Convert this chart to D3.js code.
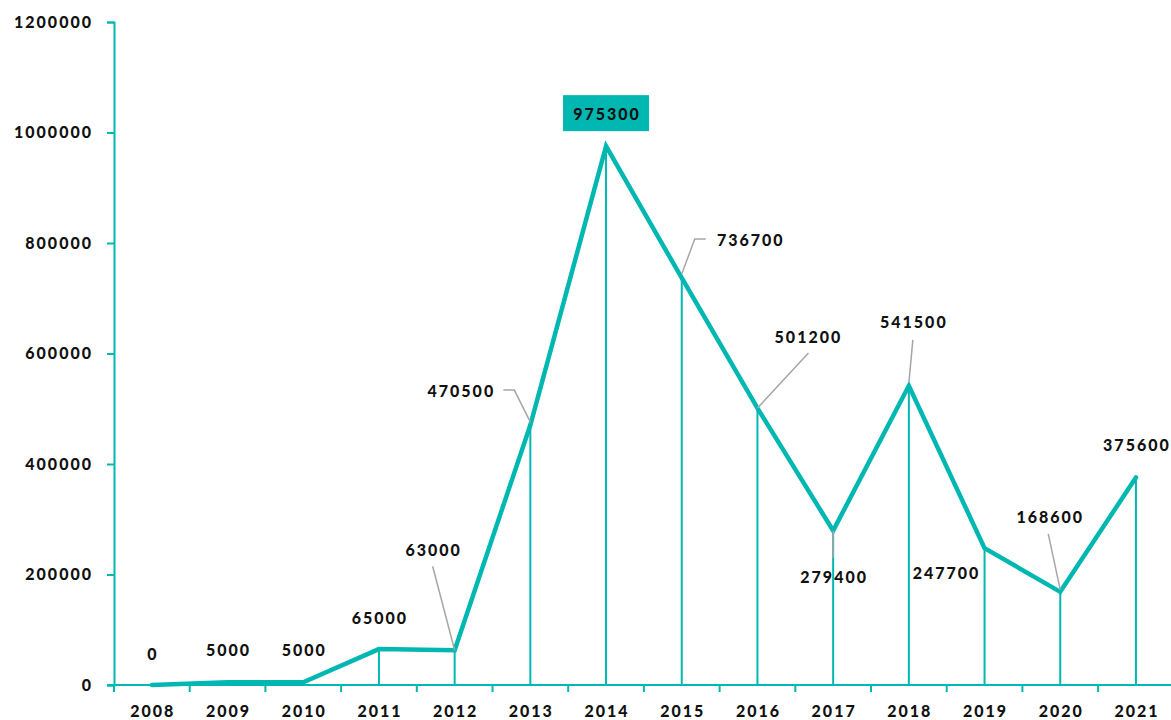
<!DOCTYPE html>
<html>
<head>
<meta charset="utf-8">
<script src="https://cdn.jsdelivr.net/npm/d3@7"></script>
<style>
  body { margin: 0; background: #fff; }
  text { font-family: Lato, "Open Sans", sans-serif; font-weight: 900; }
</style>
</head>
<body>
<div id="chart"><svg width="1171" height="720"></svg></div>
<script>
// Data
let years = ["2008", "2009", "2010", "2011", "2012", "2013", "2014", "2015", "2016", "2017", "2018", "2019", "2020", "2021"];
let values = [0, 5000, 5000, 65000, 63000, 470500, 975300, 736700, 501200, 279400, 541500, 247700, 168600, 375600];
let yTicks = [0, 200000, 400000, 600000, 800000, 1000000, 1200000];

// Label placement (offsets from the point, in px) and leader lines
let labelLayout = [
  { dx: 0, dy: -31 },
  { dx: 0, dy: -32 },
  { dx: 0, dy: -32 },
  { dx: 0, dy: -31 },
  { dx: -22, dy: -100, leader: [[-22, -84], [0, 0]] },
  { dx: -70, dy: -34, leader: [[-27, -35], [-16, -35], [0, -3]] },
  { dx: 0, dy: -32, box: true },
  { dx: 68, dy: -38, leader: [[24, -39], [13, -39], [0, -4]] },
  { dx: 50, dy: -71, leader: [[51, -55], [0, 0]] },
  { dx: 0, dy: 47, leader: [[0, 0], [0, 27]] },
  { dx: 4, dy: -63, leader: [[4, -46], [0, -3]] },
  { dx: -39, dy: 25 },
  { dx: -11, dy: -74, leader: [[-12, -58], [0, -2]] },
  { dx: 0, dy: -32 }
];

let teal = "#00b8b1";
let grey = "#a6a6a6";

let svg = d3.select("div#chart svg"),
  margin = { top: 22, right: 0, bottom: 35, left: 114 },
  width = 1171 - margin.left - margin.right,
  height = 720 - margin.top - margin.bottom,
  g = svg.append("g").attr("transform", "translate(" + margin.left + "," + margin.top + ")");

let x = d3.scaleBand()
  .domain(years)
  .range([0, 75.7 * years.length]);
let y = d3.scaleLinear()
  .domain([0, 1200000])
  .range([height, 0]);

let cx = d => x(d.year) + x.bandwidth() / 2;

let dataset = years.map((yr, i) => ({ year: yr, value: values[i], lay: labelLayout[i] }));

// Y axis
let yAxis = g.append("g")
  .attr("class", "axis axis_y")
  .call(d3.axisLeft(y).tickValues(yTicks).tickSize(7).tickPadding(14).tickFormat(d3.format("d")));
yAxis.selectAll("path, line").attr("stroke", teal).attr("stroke-width", 2);
yAxis.selectAll("text")
  .attr("fill", "#111")
  .style("font-size", "16px")
  .style("letter-spacing", "2px");

// X axis
let xAxisG = g.append("g")
  .attr("class", "axis axis_x")
  .attr("transform", "translate(0," + height + ")");
xAxisG.append("line")
  .attr("x1", -7)
  .attr("x2", width)
  .attr("stroke", teal)
  .attr("stroke-width", 2);
xAxisG.selectAll("line.tick")
  .data(years)
  .enter()
  .append("line")
    .attr("class", "tick")
    .attr("x1", d => x(d))
    .attr("x2", d => x(d))
    .attr("y1", 0)
    .attr("y2", 7)
    .attr("stroke", teal)
    .attr("stroke-width", 2);
xAxisG.selectAll("text")
  .data(years)
  .enter()
  .append("text")
    .attr("x", d => x(d) + x.bandwidth() / 2 + 1)
    .attr("y", 32)
    .attr("text-anchor", "middle")
    .attr("fill", "#111")
    .style("font-size", "16px")
    .style("letter-spacing", "2px")
    .text(d => d);

// Drop lines
g.append("g")
  .selectAll("line")
  .data(dataset)
  .enter()
  .append("line")
    .attr("x1", cx)
    .attr("x2", cx)
    .attr("y1", d => y(d.value))
    .attr("y2", y(0))
    .attr("stroke", teal)
    .attr("stroke-width", 2);

// Main line
let line = d3.line()
  .x(cx)
  .y(d => y(d.value));

g.append("path")
  .datum(dataset)
  .attr("class", "line")
  .attr("d", line)
  .attr("fill", "none")
  .attr("stroke", teal)
  .attr("stroke-width", 4.5)
  .attr("stroke-linejoin", "miter")
  .attr("stroke-linecap", "round");

// Leader lines
g.append("g")
  .selectAll("path")
  .data(dataset.filter(d => d.lay.leader))
  .enter()
  .append("path")
    .attr("d", d => d3.line()(d.lay.leader.map(p => [cx(d) + p[0], y(d.value) + p[1]])))
    .attr("fill", "none")
    .attr("stroke", grey)
    .attr("stroke-width", 1.5);

// Highlight box for the peak
let peak = dataset.filter(d => d.lay.box);
g.append("g")
  .selectAll("rect")
  .data(peak)
  .enter()
  .append("rect")
    .attr("x", d => cx(d) - 43)
    .attr("y", d => y(d.value) + d.lay.dy - 19)
    .attr("width", 86)
    .attr("height", 36)
    .attr("fill", teal);

// Value labels
g.append("g")
  .selectAll("text")
  .data(dataset)
  .enter()
  .append("text")
    .attr("x", d => cx(d) + d.lay.dx + 1)
    .attr("y", d => y(d.value) + d.lay.dy)
    .attr("dy", "0.35em")
    .attr("text-anchor", "middle")
    .attr("fill", "#111")
    .style("font-size", "16px")
    .style("letter-spacing", "2px")
    .text(d => d.value);
</script>
</body>
</html>
